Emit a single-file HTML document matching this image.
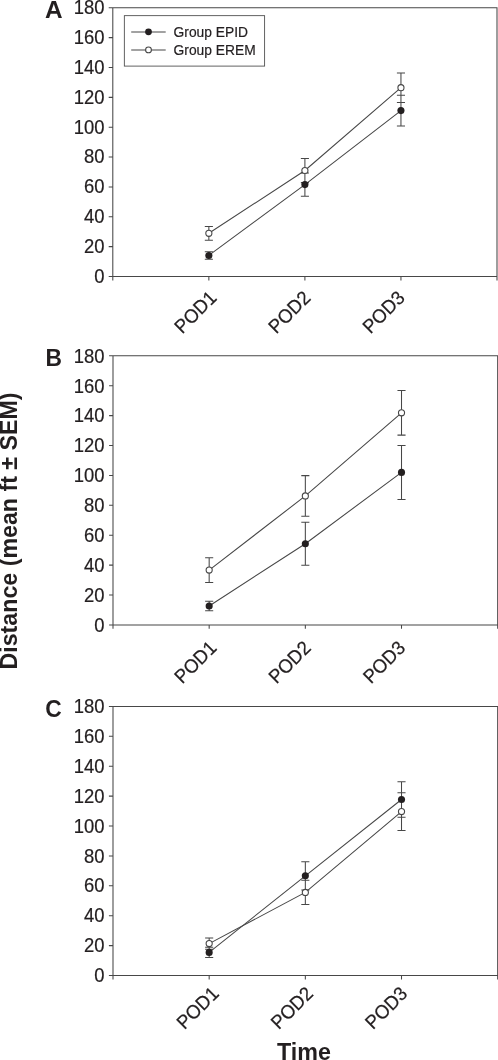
<!DOCTYPE html>
<html lang="en"><head><meta charset="utf-8"><title>Distance ambulated by group</title>
<style>
html,body{margin:0;padding:0;background:#fff}
body{width:498px;height:1060px;overflow:hidden}
svg{display:block}
text{font-family:"Liberation Sans",Arial,Helvetica,sans-serif;fill:#231f20}
.t{font-size:19.3px;stroke:#231f20;stroke-width:0.22px}
.b{font-size:23.5px;font-weight:bold}
.lg{font-size:13.8px;stroke:#231f20;stroke-width:0.2px}
.l{fill:none;stroke:#474747;stroke-width:1.05}
</style></head><body>
<svg width="498" height="1060" viewBox="0 0 498 1060">
<rect width="498" height="1060" fill="#fff"/>
<g>
<text class="t" transform="translate(104.4 282.80) scale(0.955 1)" text-anchor="end">0</text>
<text class="t" transform="translate(104.4 252.94) scale(0.955 1)" text-anchor="end">20</text>
<text class="t" transform="translate(104.4 223.08) scale(0.955 1)" text-anchor="end">40</text>
<text class="t" transform="translate(104.4 193.23) scale(0.955 1)" text-anchor="end">60</text>
<text class="t" transform="translate(104.4 163.37) scale(0.955 1)" text-anchor="end">80</text>
<text class="t" transform="translate(104.4 133.51) scale(0.955 1)" text-anchor="end">100</text>
<text class="t" transform="translate(104.4 103.65) scale(0.955 1)" text-anchor="end">120</text>
<text class="t" transform="translate(104.4 73.80) scale(0.955 1)" text-anchor="end">140</text>
<text class="t" transform="translate(104.4 43.94) scale(0.955 1)" text-anchor="end">160</text>
<text class="t" transform="translate(104.4 14.08) scale(0.955 1)" text-anchor="end">180</text>
<path class="l" d="M112.80 280.60V7.78H497.00V280.60M108.70 276.5H497.00M108.70 246.64H112.80M108.70 216.78H112.80M108.70 186.93H112.80M108.70 157.07H112.80M108.70 127.21H112.80M108.70 97.35H112.80M108.70 67.50H112.80M108.70 37.64H112.80M108.70 7.78H112.80M208.85 276.5V280.60M304.90 276.5V280.60M400.95 276.5V280.60"/>
<text class="t" transform="translate(182.2 334.4) rotate(-45) scale(0.955 1)">POD1</text>
<text class="t" transform="translate(276.3 334.4) rotate(-45) scale(0.955 1)">POD2</text>
<text class="t" transform="translate(370.4 334.4) rotate(-45) scale(0.955 1)">POD3</text>
<text class="b" transform="translate(44.9 17.7) scale(1.038 1)">A</text>
<path class="l" d="M208.85 251.70V259.20M204.80 251.70H212.90M204.80 259.20H212.90M304.90 172.90V196.30M300.85 172.90H308.95M300.85 196.30H308.95M400.95 95.30V125.90M396.90 95.30H405.00M396.90 125.90H405.00M208.85 226.40V240.20M204.80 226.40H212.90M204.80 240.20H212.90M304.90 158.40V182.60M300.85 158.40H308.95M300.85 182.60H308.95M400.95 72.90V102.50M396.90 72.90H405.00M396.90 102.50H405.00"/>
<polyline class="l" points="208.85,255.45 304.90,184.6 400.95,110.6"/>
<polyline class="l" points="208.85,233.3 304.90,170.5 400.95,87.7"/>
<circle cx="208.85" cy="233.3" r="3.05" fill="#fff" stroke="#474747" stroke-width="1.1"/>
<circle cx="304.90" cy="170.5" r="3.05" fill="#fff" stroke="#474747" stroke-width="1.1"/>
<circle cx="400.95" cy="87.7" r="3.05" fill="#fff" stroke="#474747" stroke-width="1.1"/>
<circle cx="208.85" cy="255.45" r="3.55" fill="#231f20"/>
<circle cx="304.90" cy="184.6" r="3.55" fill="#231f20"/>
<circle cx="400.95" cy="110.6" r="3.55" fill="#231f20"/>
</g>
<g>
<text class="t" transform="translate(104.4 631.75) scale(0.955 1)" text-anchor="end">0</text>
<text class="t" transform="translate(104.4 601.84) scale(0.955 1)" text-anchor="end">20</text>
<text class="t" transform="translate(104.4 571.94) scale(0.955 1)" text-anchor="end">40</text>
<text class="t" transform="translate(104.4 542.03) scale(0.955 1)" text-anchor="end">60</text>
<text class="t" transform="translate(104.4 512.13) scale(0.955 1)" text-anchor="end">80</text>
<text class="t" transform="translate(104.4 482.22) scale(0.955 1)" text-anchor="end">100</text>
<text class="t" transform="translate(104.4 452.32) scale(0.955 1)" text-anchor="end">120</text>
<text class="t" transform="translate(104.4 422.41) scale(0.955 1)" text-anchor="end">140</text>
<text class="t" transform="translate(104.4 392.51) scale(0.955 1)" text-anchor="end">160</text>
<text class="t" transform="translate(104.4 362.60) scale(0.955 1)" text-anchor="end">180</text>
<path class="l" d="M113.00 628.85V355.8H497.68V628.85M109.10 624.95H497.68M109.10 595.04H113.00M109.10 565.14H113.00M109.10 535.23H113.00M109.10 505.33H113.00M109.10 475.42H113.00M109.10 445.52H113.00M109.10 415.61H113.00M109.10 385.71H113.00M109.10 355.8H113.00M209.17 624.95V628.85M305.34 624.95V628.85M401.51 624.95V628.85"/>
<text class="t" transform="translate(182.2 684.55) rotate(-45) scale(0.955 1)">POD1</text>
<text class="t" transform="translate(276.5 684.55) rotate(-45) scale(0.955 1)">POD2</text>
<text class="t" transform="translate(370.9 684.55) rotate(-45) scale(0.955 1)">POD3</text>
<text class="b" transform="translate(45.5 365.6) scale(0.97 1)">B</text>
<path class="l" d="M209.17 601.30V610.70M205.12 601.30H213.22M205.12 610.70H213.22M305.34 522.20V565.20M301.29 522.20H309.39M301.29 565.20H309.39M401.51 445.40V499.40M397.46 445.40H405.56M397.46 499.40H405.56M209.17 557.75V582.45M205.12 557.75H213.22M205.12 582.45H213.22M305.34 475.60V516.20M301.29 475.60H309.39M301.29 516.20H309.39M401.51 390.50V435.10M397.46 390.50H405.56M397.46 435.10H405.56"/>
<polyline class="l" points="209.17,606.0 305.34,543.7 401.51,472.4"/>
<polyline class="l" points="209.17,570.1 305.34,495.9 401.51,412.8"/>
<circle cx="209.17" cy="570.1" r="3.05" fill="#fff" stroke="#474747" stroke-width="1.1"/>
<circle cx="305.34" cy="495.9" r="3.05" fill="#fff" stroke="#474747" stroke-width="1.1"/>
<circle cx="401.51" cy="412.8" r="3.05" fill="#fff" stroke="#474747" stroke-width="1.1"/>
<circle cx="209.17" cy="606.0" r="3.55" fill="#231f20"/>
<circle cx="305.34" cy="543.7" r="3.55" fill="#231f20"/>
<circle cx="401.51" cy="472.4" r="3.55" fill="#231f20"/>
</g>
<g>
<text class="t" transform="translate(104.4 982.10) scale(0.955 1)" text-anchor="end">0</text>
<text class="t" transform="translate(104.4 952.21) scale(0.955 1)" text-anchor="end">20</text>
<text class="t" transform="translate(104.4 922.31) scale(0.955 1)" text-anchor="end">40</text>
<text class="t" transform="translate(104.4 892.42) scale(0.955 1)" text-anchor="end">60</text>
<text class="t" transform="translate(104.4 862.52) scale(0.955 1)" text-anchor="end">80</text>
<text class="t" transform="translate(104.4 832.63) scale(0.955 1)" text-anchor="end">100</text>
<text class="t" transform="translate(104.4 802.73) scale(0.955 1)" text-anchor="end">120</text>
<text class="t" transform="translate(104.4 772.84) scale(0.955 1)" text-anchor="end">140</text>
<text class="t" transform="translate(104.4 742.94) scale(0.955 1)" text-anchor="end">160</text>
<text class="t" transform="translate(104.4 713.05) scale(0.955 1)" text-anchor="end">180</text>
<path class="l" d="M113.00 979.60V706.45H497.68V979.60M108.90 975.5H497.68M108.90 945.61H113.00M108.90 915.71H113.00M108.90 885.82H113.00M108.90 855.92H113.00M108.90 826.03H113.00M108.90 796.13H113.00M108.90 766.24H113.00M108.90 736.34H113.00M108.90 706.45H113.00M209.17 975.5V979.60M305.34 975.5V979.60M401.51 975.5V979.60"/>
<text class="t" transform="translate(184.4 1030.25) rotate(-45) scale(0.955 1)">POD1</text>
<text class="t" transform="translate(278.8 1030.25) rotate(-45) scale(0.955 1)">POD2</text>
<text class="t" transform="translate(373.1 1030.25) rotate(-45) scale(0.955 1)">POD3</text>
<text class="b" transform="translate(45.2 716.8) scale(0.97 1)">C</text>
<path class="l" d="M209.17 947.30V957.50M205.12 947.30H213.22M205.12 957.50H213.22M305.34 861.70V889.90M301.29 861.70H309.39M301.29 889.90H309.39M401.51 781.70V817.30M397.46 781.70H405.56M397.46 817.30H405.56M209.17 938.00V949.20M205.12 938.00H213.22M205.12 949.20H213.22M305.34 880.30V904.50M301.29 880.30H309.39M301.29 904.50H309.39M401.51 792.70V830.50M397.46 792.70H405.56M397.46 830.50H405.56"/>
<polyline class="l" points="209.17,952.4 305.34,875.8 401.51,799.5"/>
<polyline class="l" points="209.17,943.6 305.34,892.4 401.51,811.6"/>
<circle cx="209.17" cy="943.6" r="3.05" fill="#fff" stroke="#474747" stroke-width="1.1"/>
<circle cx="305.34" cy="892.4" r="3.05" fill="#fff" stroke="#474747" stroke-width="1.1"/>
<circle cx="401.51" cy="811.6" r="3.05" fill="#fff" stroke="#474747" stroke-width="1.1"/>
<circle cx="209.17" cy="952.4" r="3.55" fill="#231f20"/>
<circle cx="305.34" cy="875.8" r="3.55" fill="#231f20"/>
<circle cx="401.51" cy="799.5" r="3.55" fill="#231f20"/>
</g>
<g><rect x="124.35" y="15.65" width="140.25" height="50.45" fill="#fff" stroke="#505050" stroke-width="0.9"/>
<path class="l" d="M131.2 32H165.7M131.2 49.95H165.7"/>
<circle cx="148.5" cy="31.8" r="3.4" fill="#231f20"/><circle cx="148.5" cy="49.9" r="2.9" fill="#fff" stroke="#474747" stroke-width="1.1"/>
<text class="lg" x="173.6" y="36.8">Group EPID</text><text class="lg" x="173.6" y="54.8">Group EREM</text></g>
<text class="b" text-anchor="middle" transform="translate(17.1 531.0) rotate(-90) scale(0.988 1)">Distance (mean ft ± SEM)</text>
<text class="b" text-anchor="middle" transform="translate(304.0 1059.7) scale(0.992 1)">Time</text>
</svg></body></html>
